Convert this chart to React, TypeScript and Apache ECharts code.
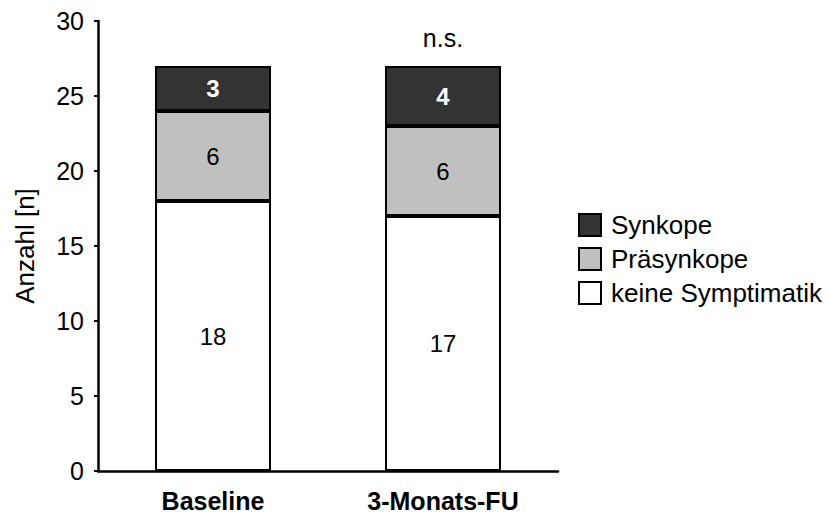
import React, { useEffect, useRef } from "react";
import * as echarts from "echarts";

const categories = ["Baseline", "3-Monats-FU"];
const keineSymptomatik = [18, 17];
const praesynkope = [6, 6];
const synkope = [3, 4];
const annotations = ["", "n.s."];
const yTicks = { min: 0, max: 30, interval: 5 };

const FONT = "'Liberation Sans', Arial, sans-serif";

export default function App() {
  const ref = useRef<HTMLDivElement>(null);
  useEffect(() => {
    if (!ref.current) return;
    const chart = echarts.init(ref.current, undefined, { renderer: "svg" });
    const totals = categories.map((_, i) => keineSymptomatik[i] + praesynkope[i] + synkope[i]);
    const markData = categories
      .map((c, i) => ({ c, i }))
      .filter((d) => annotations[d.i])
      .map((d) => ({
        coord: [d.c, totals[d.i]],
        value: annotations[d.i],
      }));
    const border = { borderColor: "#000", borderWidth: 2 };
    chart.setOption({
      animation: false,
      backgroundColor: "#fff",
      textStyle: { fontFamily: FONT },
      grid: { left: 98, right: 271, top: 21, bottom: 44, containLabel: false },
      legend: {
        orient: "vertical",
        left: 573,
        top: 207,
        itemWidth: 22,
        itemHeight: 22,
        itemGap: 8,
        icon: "rect",
        data: ["Synkope", "Präsynkope", "keine Symptimatik"],
        textStyle: { fontFamily: FONT, fontSize: 26, color: "#000", padding: [0, 0, 0, 5] },
      },
      xAxis: {
        type: "category",
        data: categories,
        axisLine: { lineStyle: { color: "#000", width: 2.5 } },
        axisTick: { show: false },
        axisLabel: { color: "#000", fontSize: 25, fontWeight: "bold", fontFamily: FONT, margin: 17 },
      },
      yAxis: {
        type: "value",
        min: yTicks.min,
        max: yTicks.max,
        interval: yTicks.interval,
        name: "Anzahl [n]",
        nameLocation: "middle",
        nameGap: 60,
        nameTextStyle: { color: "#000", fontSize: 26, fontFamily: FONT },
        axisLine: { show: true, lineStyle: { color: "#000", width: 2.5 } },
        axisTick: { show: true, length: 4, lineStyle: { color: "#000", width: 2 } },
        axisLabel: { color: "#000", fontSize: 25, fontFamily: FONT, margin: 14 },
        splitLine: { show: false },
      },
      series: [
        {
          name: "keine Symptimatik",
          type: "bar",
          stack: "total",
          barWidth: 116,
          data: keineSymptomatik,
          itemStyle: { color: "#ffffff", ...border },
          label: { show: true, position: "inside", color: "#000", fontSize: 24, fontFamily: FONT },
        },
        {
          name: "Präsynkope",
          type: "bar",
          stack: "total",
          barWidth: 116,
          data: praesynkope,
          itemStyle: { color: "#c0c0c0", ...border },
          label: { show: true, position: "inside", color: "#000", fontSize: 24, fontFamily: FONT },
        },
        {
          name: "Synkope",
          type: "bar",
          stack: "total",
          barWidth: 116,
          data: synkope,
          itemStyle: { color: "#333333", ...border },
          label: { show: true, position: "inside", color: "#fff", fontSize: 24, fontWeight: "bold", fontFamily: FONT },
          markPoint: {
            symbol: "circle",
            symbolSize: 0,
            data: markData,
            label: {
              show: true,
              position: "top",
              distance: 16,
              color: "#000",
              fontSize: 25,
              fontFamily: FONT,
              formatter: (p: any) => p.value,
            },
          },
        },
      ],
    });
    return () => chart.dispose();
  }, []);
  return <div ref={ref} style={{ width: 829, height: 515, position: "absolute", left: 0, top: 0 }} />;
}
